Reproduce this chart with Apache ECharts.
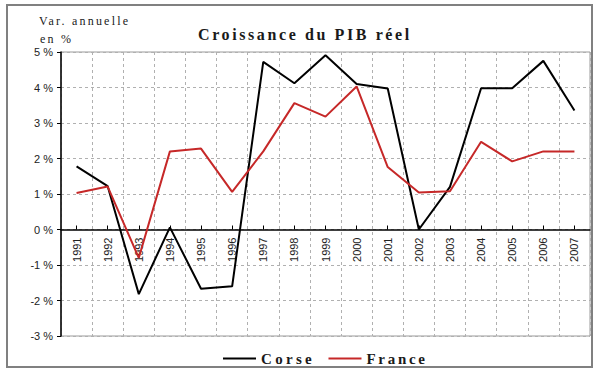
<!DOCTYPE html>
<html>
<head>
<meta charset="utf-8">
<script src="https://cdn.jsdelivr.net/npm/echarts@6/dist/echarts.min.js"></script>
<style>
html,body{margin:0;padding:0;background:#fff;}
#main{width:600px;height:372px;}
</style>
</head>
<body>
<div id="main"></div>
<script>
const years = ['1991','1992','1993','1994','1995','1996','1997','1998','1999','2000','2001','2002','2003','2004','2005','2006','2007'];
const corse = [1.78, 1.22, -1.82, 0.06, -1.67, -1.6, 4.72, 4.12, 4.91, 4.1, 3.97, 0.0, 1.2, 3.98, 3.98, 4.75, 3.35];
const france = [1.03, 1.21, -0.8, 2.2, 2.28, 1.06, 2.2, 3.56, 3.18, 4.03, 1.76, 1.04, 1.08, 2.47, 1.92, 2.2, 2.2];
const yTicks = {min: -3, max: 5, interval: 1};
const titleText = 'Croissance du PIB réel';
const unitLine1 = 'Var. annuelle';
const unitLine2 = 'en %';

const serif = 'Liberation Serif';
const gridTop = 52, gridBottom = 36, H = 372;
const plotH = H - gridTop - gridBottom;
// x axis sits on the 0 % line
const zeroOffset = -plotH * (0 - yTicks.min) / (yTicks.max - yTicks.min);

const chart = echarts.init(document.getElementById('main'), null, {renderer: 'svg'});
chart.setOption({
  animation: false,
  backgroundColor: '#fff',
  graphic: [{
    type: 'rect', silent: true, z: -1,
    shape: {x: 7, y: 5, width: 585, height: 362},
    style: {fill: '#fff', stroke: '#808080', lineWidth: 2}
  }],
  title: [
    {text: titleText, left: 193, top: 21, textStyle: {fontFamily: serif, fontWeight: 'bold', fontSize: 16, color: '#1a1a1a'}},
    {text: unitLine1, left: 34, top: 10, textStyle: {fontFamily: serif, fontWeight: 'normal', fontSize: 12, color: '#1a1a1a'}},
    {text: unitLine2, left: 35, top: 28, textStyle: {fontFamily: serif, fontWeight: 'normal', fontSize: 12, color: '#1a1a1a'}}
  ],
  legend: {
    left: 218, top: 346, itemWidth: 33, itemHeight: 2, itemGap: 30, icon: 'rect',
    textStyle: {fontFamily: serif, fontWeight: 'bold', fontSize: 15, color: '#1a1a1a'},
    data: ['Corse', 'France']
  },
  grid: {left: 61, right: 10, top: gridTop, bottom: gridBottom, show: true, borderColor: '#9a9a9a', borderWidth: 1, backgroundColor: 'transparent'},
  xAxis: {
    type: 'category', data: years, boundaryGap: true, position: 'bottom', offset: zeroOffset,
    axisLine: {onZero: false, lineStyle: {color: '#000', width: 1.5}},
    axisTick: {show: true, inside: true, length: 4, alignWithLabel: true, lineStyle: {color: '#000'}},
    axisLabel: {interval: 0, rotate: 90, margin: 8, fontFamily: 'Liberation Sans', fontSize: 11, color: '#222'},
    splitLine: {show: true, interval: 0, lineStyle: {color: '#b0b0b0', type: [3, 3], width: 1}}
  },
  yAxis: {
    type: 'value', min: yTicks.min, max: yTicks.max, interval: yTicks.interval,
    axisLine: {show: true, lineStyle: {color: '#000', width: 1.5}},
    axisTick: {show: true, length: 4, lineStyle: {color: '#000'}},
    axisLabel: {margin: 8, fontFamily: 'Liberation Sans', fontSize: 11, color: '#222', formatter: v => v + ' %'},
    splitLine: {show: true, lineStyle: {color: '#b0b0b0', type: [3, 3], width: 1}}
  },
  series: [
    {name: 'Corse', type: 'line', data: corse, symbol: 'none', lineStyle: {color: '#000', width: 2}, itemStyle: {color: '#000'}, z: 3},
    {name: 'France', type: 'line', data: france, symbol: 'none', lineStyle: {color: '#c62828', width: 2}, itemStyle: {color: '#c62828'}, z: 4}
  ]
});
const spacing = {};
spacing[titleText] = 2.6; spacing[unitLine1] = 2.2; spacing[unitLine2] = 2.2; spacing['Corse'] = 3.3; spacing['France'] = 2.7;
function applySpacing() {
  document.querySelectorAll('#main svg text').forEach(t => {
    const s = spacing[t.textContent];
    if (s != null) t.setAttribute('letter-spacing', s);
  });
}
applySpacing();
chart.on('finished', applySpacing);
</script>
</body>
</html>
